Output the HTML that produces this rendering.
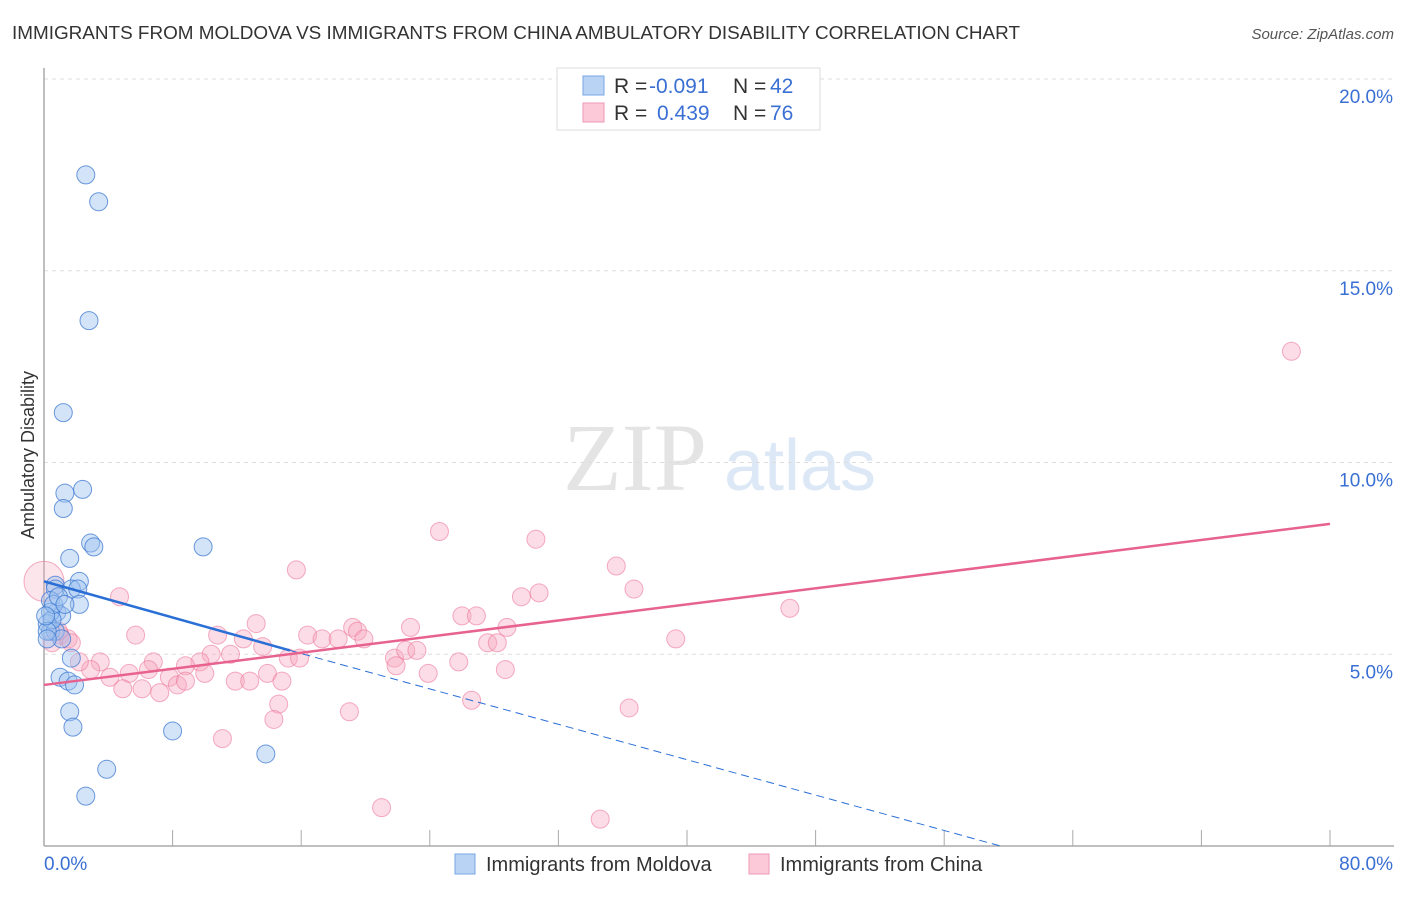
<!DOCTYPE html>
<html><head><meta charset="utf-8"><style>
body{margin:0;background:#fff;font-family:"Liberation Sans",sans-serif;}
</style></head><body>
<svg id="chart" width="1406" height="892" xmlns="http://www.w3.org/2000/svg" font-family="Liberation Sans, sans-serif">
<text x="12" y="39" font-size="18.9" fill="#333">IMMIGRANTS FROM MOLDOVA VS IMMIGRANTS FROM CHINA AMBULATORY DISABILITY CORRELATION CHART</text>
<text x="1394" y="39" font-size="15" fill="#555" font-style="italic" text-anchor="end">Source: ZipAtlas.com</text>
<g><text x="635" y="490" font-size="96" fill="#e4e4e4" text-anchor="middle" font-family="Liberation Serif, serif">ZIP</text><text x="800" y="490" font-size="72" fill="#dce8f6" text-anchor="middle">atlas</text></g>
<g id="grid"></g><g id="axes"></g><g id="marks"></g>
<text transform="translate(34,455) rotate(-90)" font-size="18" fill="#333" text-anchor="middle">Ambulatory Disability</text>
<g>
<rect x="557" y="68" width="263" height="62" fill="#fff" stroke="#ddd"/>
<rect x="583" y="76" width="21" height="19" fill="#b9d3f5" stroke="#7aa6e4"/>
<rect x="583" y="103" width="21" height="19" fill="#fcc9d8" stroke="#ee9ab4"/>
<text x="614" y="93" font-size="21" fill="#333">R =</text>
<text x="649" y="93" font-size="21" fill="#3a6fd3">-0.091</text>
<text x="733" y="93" font-size="21" fill="#333">N =</text>
<text x="770" y="93" font-size="21" fill="#3a6fd3">42</text>
<text x="614" y="120" font-size="21" fill="#333">R =</text>
<text x="657" y="120" font-size="21" fill="#3a6fd3">0.439</text>
<text x="733" y="120" font-size="21" fill="#333">N =</text>
<text x="770" y="120" font-size="21" fill="#3a6fd3">76</text>
</g>
<g>
<rect x="455" y="854" width="20" height="20" fill="#b9d3f5" stroke="#7aa6e4"/>
<text x="486" y="871" font-size="20" fill="#333">Immigrants from Moldova</text>
<rect x="749" y="854" width="20" height="20" fill="#fcc9d8" stroke="#ee9ab4"/>
<text x="780" y="871" font-size="20" fill="#333">Immigrants from China</text>
</g>
</svg>
<script>
const yTicks=[5,10,15,20];
const yTickLabels=["5.0%","10.0%","15.0%","20.0%"];
const xTickLabels=["0.0%","80.0%"];
const moldovaX=[2.6,3.4,2.8,1.2,1.3,2.4,1.2,2.9,3.1,9.9,1.6,2.2,0.7,0.7,1.7,2.1,0.4,0.8,2.2,1.1,0.4,0.2,0.4,0.7,1.1,0.5,1.7,1.0,1.5,1.9,1.6,1.8,8.0,3.9,13.8,2.6,0.2,0.6,0.1,0.9,1.3,0.2];
const moldovaY=[17.5,16.8,13.7,11.3,9.2,9.3,8.8,7.9,7.8,7.8,7.5,6.9,6.8,6.7,6.7,6.7,6.4,6.1,6.3,6.0,6.1,5.8,5.6,5.6,5.4,5.9,4.9,4.4,4.3,4.2,3.5,3.1,3.0,2.0,2.4,1.3,5.6,6.3,6.0,6.5,6.3,5.4];
const chinaX=[0,4.7,5.7,10.8,13.2,15.7,12.4,10.4,11.6,13.6,9.7,8.8,6.8,6.5,5.3,4.1,3.5,2.9,2.2,1.5,1.0,1.7,4.9,6.1,7.2,7.8,8.3,8.8,10.0,11.9,12.8,13.9,14.6,14.8,14.3,11.1,15.2,15.9,16.4,17.3,18.3,19.2,19.5,19.9,19.0,21.0,21.8,21.9,22.5,22.8,23.2,23.9,24.6,25.8,26.0,26.6,26.9,27.6,28.2,28.8,28.7,29.7,30.6,30.8,34.6,35.6,36.4,36.7,39.3,46.4,77.6,0.9,0.5];
const chinaY=[6.9,6.5,5.5,5.5,5.8,7.2,5.4,5.0,5.0,5.2,4.8,4.7,4.8,4.6,4.5,4.4,4.8,4.6,4.8,5.4,5.5,5.3,4.1,4.1,4.0,4.4,4.2,4.3,4.5,4.3,4.3,4.5,3.7,4.3,3.3,2.8,4.9,4.9,5.5,5.4,5.4,5.7,5.6,5.4,3.5,1.0,4.9,4.7,5.1,5.7,5.1,4.5,8.2,4.8,6.0,3.8,6.0,5.3,5.3,5.7,4.6,6.5,8.0,6.6,0.7,7.3,3.6,6.7,5.4,6.2,12.9,5.6,5.3];
const moldovaTrend=[0,6.9,15.3,5.1,59.5,0];
const chinaTrend=[0,4.2,80,8.4];
const NS="http://www.w3.org/2000/svg";
const X=v=>44+v/80*1286, Y=v=>846-v*38.35;
function mk(t,a,p){const e=document.createElementNS(NS,t);for(const k in a)e.setAttribute(k,a[k]);p.appendChild(e);return e;}
const grid=document.getElementById('grid'),axes=document.getElementById('axes'),marks=document.getElementById('marks');
yTicks.forEach((t,i)=>{
 const l=mk('line',{x1:44,x2:1394,y1:Y(t),y2:Y(t),stroke:'#ddd','stroke-dasharray':'4,4'},grid);
 
 
 const tx=mk('text',{x:1393,y:Y(t)+24,'font-size':19,fill:'#3a6fd3','text-anchor':'end'},axes);tx.textContent=yTickLabels[i];
 
 
});
const ax=mk('line',{x1:44,x2:44,y1:68,y2:846,stroke:'#aaa','stroke-width':1.5},axes);


const bx=mk('line',{x1:44,x2:1394,y1:846,y2:846,stroke:'#aaa','stroke-width':1.5},axes);


for(let v=8;v<=80;v+=8){const t=mk('line',{x1:X(v),x2:X(v),y1:830,y2:846,stroke:'#aaa'},axes);
 
 }
[[0,'start',44],[1,'end',1393]].forEach(([i,a,x])=>{const t=mk('text',{x:x,y:870,'font-size':19,fill:'#3a6fd3','text-anchor':a},axes);t.textContent=xTickLabels[i];
 
 });
chinaX.forEach((x,i)=>{const c=mk('circle',{cx:X(x),cy:Y(chinaY[i]),r:i==0?20:9,fill:i==0?'rgba(248,168,192,0.3)':'rgba(248,168,192,0.4)',stroke:'rgba(236,120,155,0.6)','stroke-width':1},marks);
 
 });
moldovaX.forEach((x,i)=>{const c=mk('circle',{cx:X(x),cy:Y(moldovaY[i]),r:9,fill:'rgba(160,196,240,0.45)',stroke:'rgba(60,120,210,0.75)','stroke-width':1},marks);
 
 });
const m=moldovaTrend;
const t1=mk('line',{x1:X(m[0]),y1:Y(m[1]),x2:X(m[2]),y2:Y(m[3]),stroke:'#2a6fd6','stroke-width':2.5},marks);


const t2=mk('line',{x1:X(m[2]),y1:Y(m[3]),x2:X(m[4]),y2:Y(m[5]),stroke:'#2a6fd6','stroke-width':1,'stroke-dasharray':'8,5'},marks);


const c=chinaTrend;
const t3=mk('line',{x1:X(c[0]),y1:Y(c[1]),x2:X(c[2]),y2:Y(c[3]),stroke:'#e8628f','stroke-width':2.5},marks);


</script>
</body></html>
